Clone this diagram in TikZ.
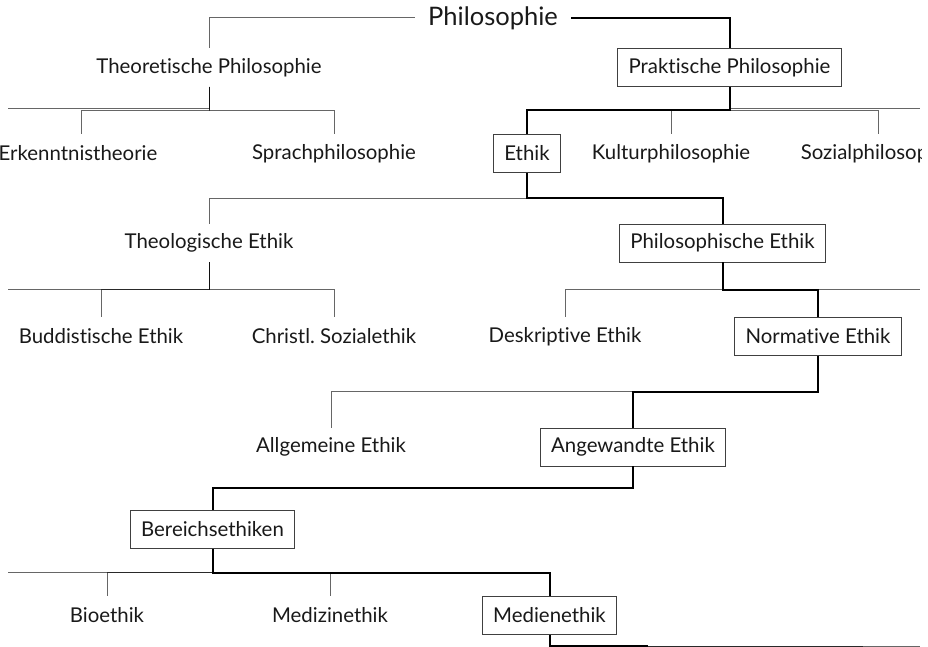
\documentclass[tikz,border=0pt]{standalone}
\usepackage{fontspec}
\setmainfont{Lato}[Ligatures=NoCommon]
\usetikzlibrary{calc}

\tikzset{
  every node/.style={font=\fontsize{20.4}{24}\selectfont, text=black!90, minimum height=38pt, inner xsep=11pt},
  pick/.style={draw=black!75, line width=0.8pt, fill=white},
  link/.style={draw=black, line width=1pt, draw opacity=0.6},
  chosen/.style={draw=black, line width=2pt},
  bus/.style={to path={|- ($(\tikztostart)!.5!(\tikztotarget)$) -| (\tikztotarget)}}
}

\begin{document}
\begin{tikzpicture}[x=1pt,y=-1pt]
\useasboundingbox (0,0) rectangle (928,647);
\clip (0,0) rectangle (921,647);

\node[font=\fontsize{25.5}{28}\selectfont, inner xsep=13pt] (philo) at (493,18) {Philosophie};

\node (theo) at (209,67.5) {Theoretische Philosophie};
\node[pick] (prak) at (729.5,67.5) {Praktische Philosophie};

\node (erk) at (78,153.5) {Erkenntnistheorie};
\node (sprach) at (334,153.5) {Sprachphilosophie};
\node[pick] (ethik) at (527,153.5) {Ethik};
\node (kultur) at (671,153.5) {Kulturphilosophie};
\node (sozial) at (878,153.5) {Sozialphilosophie};

\node (theol) at (209,243) {Theologische Ethik};
\node[pick] (phil) at (722.5,243) {Philosophische Ethik};

\node (budd) at (101,336.5) {Buddistische Ethik};
\node (christ) at (334,336.5) {Christl.\ Sozialethik};
\node (deskr) at (565,336.5) {Deskriptive Ethik};
\node[pick] (norm) at (818,336.5) {Normative Ethik};

\node (allg) at (331,447) {Allgemeine Ethik};
\node[pick] (angew) at (633,447) {Angewandte Ethik};

\node[pick] (bereich) at (212.5,529.5) {Bereichsethiken};

\node (bio) at (107,615.5) {Bioethik};
\node (medizin) at (330,615.5) {Medizinethik};
\node[pick] (medien) at (549.5,615.5) {Medienethik};

% branches running off the page
\coordinate (theo-l) at (8,109);
\coordinate (prak-r) at (920,109);
\coordinate (theol-l) at (8,289);
\coordinate (phil-r) at (920,289);
\coordinate (bereich-l) at (8,572);
\coordinate (medien-a) at (648,646);
\coordinate (medien-b) at (863,646);
\coordinate (medien-c) at (920,646);

% thin branches
\draw[link] (philo.west) -| (theo.north);
\draw[link] (theo.south) |- (theo-l);
\draw[link] (theo.south) to[bus] (erk.north -| 81,0);
\draw[link] (theo.south) to[bus] (sprach.north);
\draw[link] (prak.south) to[bus] (kultur.north);
\draw[link] (prak.south) to[bus] (sozial.north);
\draw[link] (prak.south) |- (prak-r);
\draw[link] (ethik.south) to[bus] (theol.north);
\draw[link] (theol.south) |- (theol-l);
\draw[link] (theol.south) to[bus] (budd.north);
\draw[link] (theol.south) to[bus] (christ.north);
\draw[link] (phil.south) to[bus] (deskr.north);
\draw[link] (phil.south) |- (phil-r);
\draw[link] (norm.south) to[bus] (allg.north);
\draw[link] (bereich.south) |- (bereich-l);
\draw[link] (bereich.south) to[bus] (bio.north);
\draw[link] (bereich.south) to[bus] (medizin.north);
\draw[link] (medien.south) |- (medien-b);
\draw[link] (medien.south) |- (medien-c);

% the marked way down
\draw[chosen] (philo.east) -| (prak.north);
\draw[chosen] (prak.south) to[bus] (ethik.north);
\draw[chosen] (ethik.south) to[bus] (phil.north);
\draw[chosen] (phil.south) to[bus] (norm.north);
\draw[chosen] (norm.south) to[bus] (angew.north);
\draw[chosen] (angew.south) to[bus] (bereich.north);
\draw[chosen] (bereich.south) to[bus] (medien.north);
\draw[chosen] (medien.south) |- (medien-a);
\end{tikzpicture}
\end{document}
